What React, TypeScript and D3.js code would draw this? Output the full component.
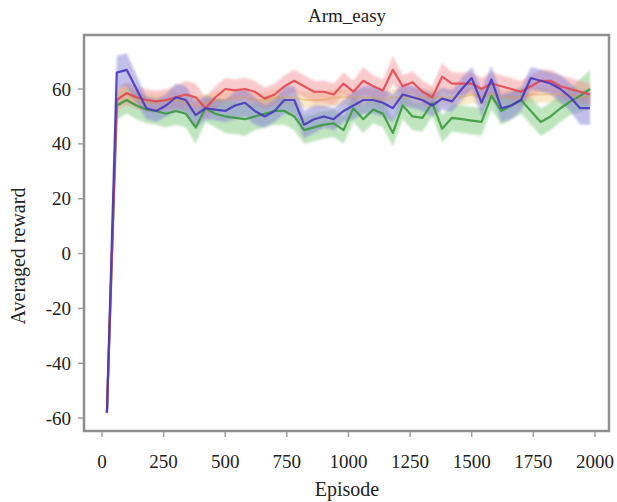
import React, { useEffect, useRef } from 'react';
import * as d3 from 'd3';

const episodes = [
  20, 60, 100, 140, 180, 220, 260, 300, 340, 380,
  420, 460, 500, 540, 580, 620, 660, 700, 740, 780,
  820, 860, 900, 940, 980, 1020, 1060, 1100, 1140, 1180,
  1220, 1260, 1300, 1340, 1380, 1420, 1460, 1500, 1540, 1580,
  1620, 1660, 1700, 1740, 1780, 1820, 1860, 1900, 1940, 1980,
];

const orangeMean = [
  -58, 57, 58, 56, 55, 55, 56, 56, 55, 54,
  55, 56, 56, 57, 57, 56, 56, 57, 57, 57,
  56, 56, 56, 57, 57, 57, 57, 57, 56, 57,
  57, 57, 57, 57, 57, 57, 57, 58, 57, 58,
  57, 57, 57, 58, 58, 58, 58, 58, 57, 57,
];
const orangeSpread = [
  1, 3, 4, 3, 3, 3, 3, 3, 3, 3,
  3, 3, 3, 3, 3, 3, 3, 3, 3, 3,
  3, 3, 3, 3, 3, 3, 3, 3, 3, 3,
  3, 3, 3, 3, 3, 3, 3, 3, 3, 3,
  3, 3, 3, 3, 3, 3, 3, 3, 3, 3,
];

const greenMean = [
  -58, 54, 56, 54, 52.5, 52, 51, 52, 51, 46,
  53, 51, 50, 49.5, 49, 50, 51, 52, 52, 50,
  45, 46, 47, 47.5, 45, 53, 49, 52.5, 51, 44,
  54, 50, 49.5, 55, 45.5, 49.5, 49, 48.5, 48, 57.5,
  52, 54, 56, 52, 48, 50, 53, 55.5, 57.5, 60,
];
const greenSpread = [
  1, 5, 5, 5, 5, 5, 5, 5, 5, 6,
  5, 5, 6, 6, 6, 5, 5, 5, 5, 5,
  5, 5, 5, 5, 5, 5, 5, 5, 5, 5,
  5, 5, 5, 5, 5, 5, 5, 5, 5, 5,
  5, 5, 5, 5, 5, 5, 5, 5, 6, 7,
];

const redMean = [
  -58, 56, 58.5, 57, 56, 55.5, 56, 57, 58, 57,
  53, 57, 60, 59.5, 60, 59, 56.5, 58, 61, 63,
  61, 59, 59, 58, 62, 59, 63, 61, 59.5, 67,
  61, 62.5, 59, 57, 64.5, 62, 62, 62, 60, 62,
  61, 60, 59, 61, 63, 63, 61, 60, 59, 58,
];
const redSpread = [
  1, 4, 4, 4, 4, 4, 4, 4, 5, 5,
  4, 4, 4, 4, 4, 4, 4, 4, 4, 4,
  4, 4, 4, 4, 4, 4, 5, 4, 4, 5,
  4, 4, 4, 4, 5, 4, 4, 4, 4, 4,
  4, 4, 4, 4, 4, 4, 4, 4, 4, 4,
];

const blueMean = [
  -58, 66, 67, 60, 53, 52, 54, 57, 56, 50.5,
  53, 52.5, 52, 54, 55, 52, 50, 52, 56, 56,
  47, 49, 50, 49, 52, 54, 56, 56, 55, 53,
  58, 57, 56, 54, 56.5, 55.5, 60, 64, 55, 63.5,
  53, 54, 56, 64, 63, 62, 60, 57, 53, 53,
];
const blueSpread = [
  1, 6, 6, 5, 4, 4, 4, 5, 5, 5,
  4, 4, 4, 5, 5, 5, 4, 4, 5, 5,
  5, 5, 4, 4, 4, 5, 5, 5, 5, 5,
  4, 4, 4, 4, 4, 4, 4, 4, 5, 5,
  5, 5, 4, 4, 4, 4, 5, 5, 6, 6,
];

const xTicks = [0, 250, 500, 750, 1000, 1250, 1500, 1750, 2000];
const yTicks = [-60, -40, -20, 0, 20, 40, 60];

const series = [
  { name: 'orange', mean: orangeMean, spread: orangeSpread, line: '#d9a040', band: '#f3cf8c', lineAlpha: 0.35 },
  { name: 'green', mean: greenMean, spread: greenSpread, line: '#3a9a3c', band: '#7fcb7f', lineAlpha: 0.9 },
  { name: 'red', mean: redMean, spread: redSpread, line: '#e24850', band: '#f4959a', lineAlpha: 0.9 },
  { name: 'blue', mean: blueMean, spread: blueSpread, line: '#4838bc', band: '#8680d8', lineAlpha: 0.9 },
];

const W = 617;
const H = 502;
const frame = { left: 84, right: 609, top: 35, bottom: 431 };
const serif = '"Liberation Serif", "DejaVu Serif", serif';

const App = () => {
  const svgRef = useRef<SVGSVGElement>(null);

  useEffect(() => {
    const svg = d3.select(svgRef.current).attr('width', W).attr('height', H);
    svg.selectAll('*').remove();

    const x = d3.scaleLinear().domain([-73, 2057]).range([frame.left, frame.right]);
    const y = d3.scaleLinear().domain([-64.7, 79.7]).range([frame.bottom, frame.top]);

    svg.append('rect').attr('width', W).attr('height', H).attr('fill', '#fff');

    const g = svg.append('g');

    series.forEach(s => {
      const rows = episodes.map((e, i) => ({ e, m: s.mean[i], sd: s.spread[i] }));
      const area = d3.area<any>()
        .x(d => x(d.e))
        .y0(d => y(d.m - d.sd))
        .y1(d => y(d.m + d.sd));
      g.append('path')
        .datum(rows)
        .attr('d', area)
        .attr('fill', s.band)
        .attr('fill-opacity', 0.5)
        .style('filter', 'blur(1px)');
    });

    series.forEach(s => {
      const rows = episodes.map((e, i) => ({ e, m: s.mean[i] }));
      const line = d3.line<any>().x(d => x(d.e)).y(d => y(d.m));
      g.append('path')
        .datum(rows)
        .attr('d', line)
        .attr('fill', 'none')
        .attr('stroke', s.line)
        .attr('stroke-width', 2.2)
        .attr('stroke-opacity', s.lineAlpha)
        .attr('stroke-linejoin', 'round')
        .style('filter', 'blur(0.3px)');
    });

    // frame
    svg.append('rect')
      .attr('x', frame.left)
      .attr('y', frame.top)
      .attr('width', frame.right - frame.left)
      .attr('height', frame.bottom - frame.top)
      .attr('fill', 'none')
      .attr('stroke', '#8f8f8f')
      .attr('stroke-width', 2.5);

    // x ticks
    const xa = svg.append('g');
    xTicks.forEach(t => {
      xa.append('line')
        .attr('x1', x(t)).attr('x2', x(t))
        .attr('y1', frame.bottom + 1).attr('y2', frame.bottom + 6)
        .attr('stroke', '#a0a0a0').attr('stroke-width', 1.5);
      xa.append('text')
        .attr('x', x(t)).attr('y', 468)
        .attr('text-anchor', 'middle')
        .attr('font-family', serif).attr('font-size', 19)
        .attr('fill', '#222')
        .text(t);
    });

    // y ticks
    const ya = svg.append('g');
    yTicks.forEach(t => {
      ya.append('line')
        .attr('x1', frame.left - 6).attr('x2', frame.left - 1)
        .attr('y1', y(t)).attr('y2', y(t))
        .attr('stroke', '#a0a0a0').attr('stroke-width', 1.5);
      ya.append('text')
        .attr('x', 71).attr('y', y(t) + 6.5)
        .attr('text-anchor', 'end')
        .attr('font-family', serif).attr('font-size', 19)
        .attr('fill', '#222')
        .text(t);
    });

    svg.append('text')
      .attr('x', 347).attr('y', 22)
      .attr('text-anchor', 'middle')
      .attr('font-family', serif).attr('font-size', 19)
      .attr('fill', '#222')
      .text('Arm_easy');

    svg.append('text')
      .attr('x', 347).attr('y', 496)
      .attr('text-anchor', 'middle')
      .attr('font-family', serif).attr('font-size', 20)
      .attr('fill', '#222')
      .text('Episode');

    svg.append('text')
      .attr('transform', 'translate(25,256) rotate(-90)')
      .attr('text-anchor', 'middle')
      .attr('font-family', serif).attr('font-size', 20)
      .attr('fill', '#222')
      .text('Averaged reward');
  }, []);

  return (
    <div style={{ position: 'absolute', left: 0, top: 0 }}>
      <svg ref={svgRef} style={{ display: 'block' }}></svg>
    </div>
  );
};

export default App;
